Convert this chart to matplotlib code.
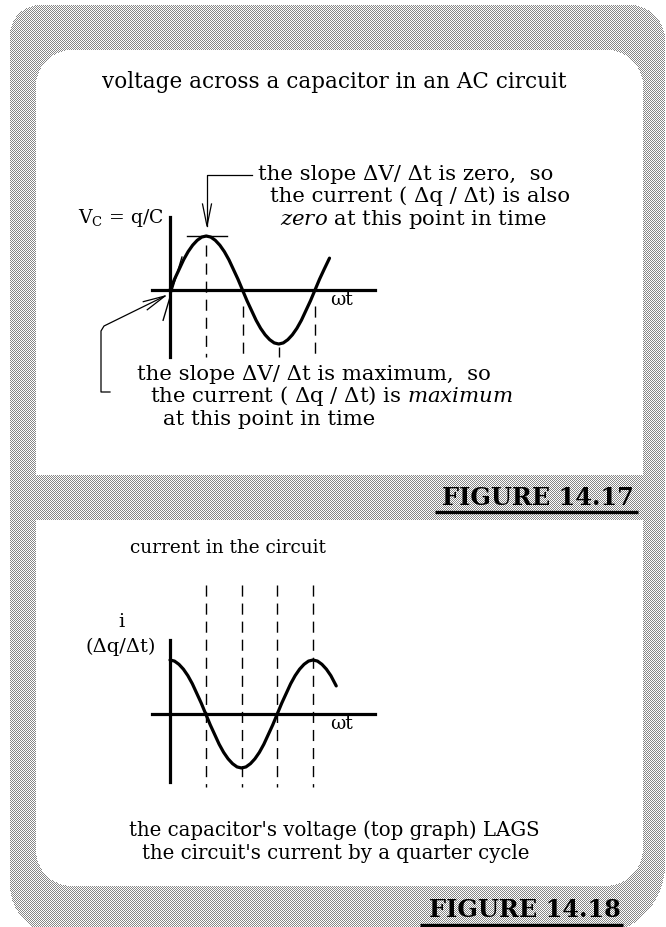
import numpy as np
import matplotlib.pyplot as plt

plt.rcParams['font.family'] = ['DejaVu Serif']
plt.rcParams['mathtext.fontset'] = 'dejavuserif'
plt.rcParams['lines.scale_dashes'] = False

W, H = 666, 927

# wt in quarter cycles, values in units of the peak
wt_v = [0, 0.125, 0.25, 0.375, 0.5, 0.625, 0.75, 0.875,
        1, 1.125, 1.25, 1.375, 1.5, 1.625, 1.75, 1.875,
        2, 2.125, 2.25, 2.375, 2.5, 2.625, 2.75, 2.875,
        3, 3.125, 3.25, 3.375, 3.5, 3.625, 3.75, 3.875,
        4, 4.125, 4.25, 4.4]
v_c = [0, 0.20, 0.38, 0.56, 0.71, 0.83, 0.92, 0.98,
       1, 0.98, 0.92, 0.83, 0.71, 0.56, 0.38, 0.20,
       0, -0.20, -0.38, -0.56, -0.71, -0.83, -0.92, -0.98,
       -1, -0.98, -0.92, -0.83, -0.71, -0.56, -0.38, -0.20,
       0, 0.20, 0.38, 0.59]

wt_i = [0, 0.125, 0.25, 0.375, 0.5, 0.625, 0.75, 0.875,
        1, 1.125, 1.25, 1.375, 1.5, 1.625, 1.75, 1.875,
        2, 2.125, 2.25, 2.375, 2.5, 2.625, 2.75, 2.875,
        3, 3.125, 3.25, 3.375, 3.5, 3.625, 3.75, 3.875,
        4, 4.125, 4.25, 4.375, 4.5, 4.65]
i_c = [1, 0.98, 0.92, 0.83, 0.71, 0.56, 0.38, 0.20,
       0, -0.20, -0.38, -0.56, -0.71, -0.83, -0.92, -0.98,
       -1, -0.98, -0.92, -0.83, -0.71, -0.56, -0.38, -0.20,
       0, 0.20, 0.38, 0.56, 0.71, 0.83, 0.92, 0.98,
       1, 0.98, 0.92, 0.83, 0.71, 0.52]

marks = [1, 2, 3, 4]
v_dash_top = [0.83, -0.3, -1.05, -0.3]


def rounded(x0, y0, x1, y1, r):
    # pixel mask of a box with corner radii (tl, tr, br, bl)
    yy, xx = np.mgrid[0:H, 0:W] + 0.5
    m = (xx >= x0) & (xx < x1) & (yy >= y0) & (yy < y1)
    tl, tr, br, bl = r
    for rad, cx, cy, sx, sy in [(tl, x0 + tl, y0 + tl, -1, -1),
                                (tr, x1 - tr, y0 + tr, 1, -1),
                                (br, x1 - br, y1 - br, 1, 1),
                                (bl, x0 + bl, y1 - bl, -1, 1)]:
        if rad == 0:
            continue
        zone = ((xx - cx) * sx > 0) & ((yy - cy) * sy > 0)
        out = (xx - cx) ** 2 + (yy - cy) ** 2 > rad ** 2
        m &= ~(zone & out)
    return m


def box(x0, y0, x1, y1):
    return [x0 / W, 1 - y1 / H, (x1 - x0) / W, (y1 - y0) / H]


def graph_axes(x0, y0, x1, y1, ox, oy, qx, amp):
    ax = fig.add_axes(box(x0, y0, x1, y1))
    ax.set_xlim((x0 - ox) / qx, (x1 - ox) / qx)
    ax.set_ylim((oy - y1) / amp, (oy - y0) / amp)
    ax.axis('off')
    return ax


def open_head(ax, tip, tail, length=22, half=4.5, lw=0.9):
    d = np.array(tail, float) - np.array(tip, float)
    d /= np.hypot(*d)
    n = np.array([-d[1], d[0]])
    b = np.array(tip) + d * length
    p1, p2 = b + n * half, b - n * half
    ax.plot([p1[0], tip[0], p2[0]], [p1[1], tip[1], p2[1]], color='k', lw=lw)


fig = plt.figure(figsize=(W / 100, H / 100), dpi=100)

# patterned frame with two white panels, one image pixel per output pixel
yy, xx = np.mgrid[0:H, 0:W]
checker = (xx + yy) % 2 == 0
outer = rounded(10, 5, 665, 935, (30, 35, 70, 50))
top_panel = rounded(36, 50, 643, 475, (36, 36, 0, 0))
bot_panel = rounded(36, 520, 643, 886, (0, 0, 38, 36))
img = np.ones((H, W, 3))
img[outer & ~top_panel & ~bot_panel & checker] = 0.53
fig.figimage(img, xo=0, yo=0, origin='upper', zorder=-1)

bg = fig.add_axes([0, 0, 1, 1])
bg.set_xlim(0, W)
bg.set_ylim(H, 0)
bg.axis('off')

# top graph: capacitor voltage
ax1 = graph_axes(140, 200, 390, 370, 170, 290, 36.25, 54)
ax1.plot([-0.5, 5.66], [0, 0], color='k', lw=2.3)
ax1.plot([0, 0], [-1.24, 1.35], color='k', lw=2.3)
for m, top in zip(marks, v_dash_top):
    ax1.plot([m, m], [top, -1.24], color='k', lw=1.0, dashes=(8, 5))
ax1.plot(wt_v, v_c, color='k', lw=2.3, solid_joinstyle='round', solid_capstyle='round')
ax1.plot([0.47, 1.57], [1, 1], color='k', lw=1.0)
ax1.plot([-0.19, 0.33], [-0.56, 0.61], color='k', lw=1.0)

# bottom graph: current
ax2 = graph_axes(140, 575, 390, 800, 170, 714, 35.75, 54)
ax2.plot([-0.5, 5.73], [0, 0], color='k', lw=2.3)
ax2.plot([0, 0], [-1.26, 1.37], color='k', lw=2.3)
for m in marks:
    ax2.plot([m, m], [2.39, -1.35], color='k', lw=1.0, dashes=(8, 5))
ax2.plot(wt_i, i_c, color='k', lw=2.3, solid_joinstyle='round', solid_capstyle='round')

# pointers
bg.plot([252, 207, 207], [175, 175, 226], color='k', lw=0.9)
open_head(bg, (207, 226), (207, 175))
bg.plot([110, 101, 101, 104, 165], [392, 392, 331, 326, 296], color='k', lw=0.9)
open_head(bg, (165, 296), (104, 326))

fs = 15.3
kw = dict(fontsize=fs, va='baseline', ha='left')
bg.text(334, 88, 'voltage across a capacitor in an AC circuit', fontsize=15.5,
        va='baseline', ha='center')
bg.text(258, 180, 'the slope \u0394V/ \u0394t is zero,  so', **kw)
bg.text(270, 202, 'the current ( \u0394q / \u0394t) is also', **kw)
bg.text(280, 225, r'$\mathit{zero}$ at this point in time', **kw)
bg.text(78, 223, r'V$_\mathregular{C}$ = q/C', fontsize=13.5, va='baseline', ha='left')
bg.text(330, 305, '\u03c9t', fontsize=13.5, va='baseline', ha='left')
bg.text(137, 380, 'the slope \u0394V/ \u0394t is maximum,  so', **kw)
bg.text(150, 402, r'the current ( $\Delta$q / $\Delta$t) is $\mathit{maximum}$', **kw)
bg.text(163, 425, 'at this point in time', **kw)

bg.text(130, 553, 'current in the circuit', fontsize=13.3, va='baseline', ha='left')
bg.text(121, 627, 'i', fontsize=14, va='baseline', ha='center')
bg.text(121, 652, '(\u0394q/\u0394t)', fontsize=14, va='baseline', ha='center')
bg.text(330, 729, '\u03c9t', fontsize=13.5, va='baseline', ha='left')
bg.text(334, 836, "the capacitor's voltage (top graph) LAGS", fontsize=14.2,
        va='baseline', ha='center')
bg.text(336, 859, "the circuit's current by a quarter cycle", fontsize=14.2,
        va='baseline', ha='center')

# figure captions with underline
for label, xc, yb, x0, x1, yu in [('FIGURE 14.17', 538, 505, 435, 638, 512),
                                  ('FIGURE 14.18', 525, 917, 420, 623, 925)]:
    bg.text(xc, yb, label, fontsize=17.3, fontweight='bold', va='baseline', ha='center')
    bg.plot([x0, x1], [yu, yu], color='k', lw=2.4, solid_capstyle='butt')

fig.savefig('out.png', dpi=100)
